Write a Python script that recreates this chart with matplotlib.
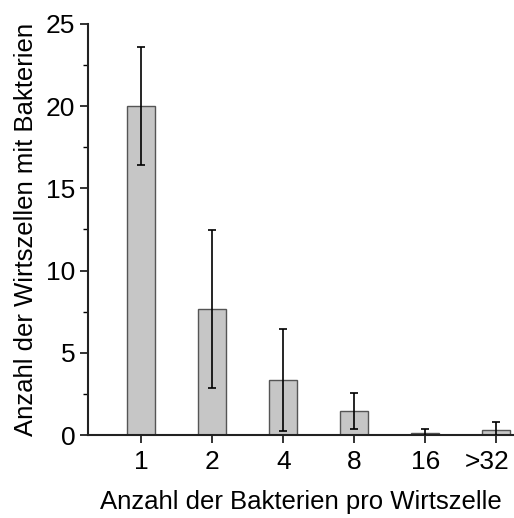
import matplotlib.pyplot as plt
import matplotlib.transforms as mtransforms
import numpy as np

plt.rcParams['font.family'] = ['Liberation Sans', 'DejaVu Sans']

# data
categories = ["1", "2", "4", "8", "16", ">32"]
counts = [20.0, 7.66, 3.35, 1.46, 0.12, 0.3]
errors = [3.6, 4.8, 3.1, 1.08, 0.25, 0.5]

fig = plt.figure(figsize=(5.14, 5.18), dpi=100)
ax = fig.add_axes([0.171, 0.160, 0.829, 0.794])

x = np.arange(len(categories))
ax.bar(x, counts, width=0.4, color='#c6c6c6', edgecolor='#555555', linewidth=1.0, zorder=2)
ax.errorbar(x, counts, yerr=errors, fmt='none', ecolor='black', elinewidth=1.2,
            capsize=3, capthick=1.2, zorder=3)

ax.set_xlim(-0.75, 5.25)
ax.set_ylim(0, 25)
ax.set_xticks(x)
ax.set_xticklabels(categories)
ax.set_yticks(np.arange(0, 26, 5))
ax.set_yticks(np.arange(0, 25.1, 2.5), minor=True)

for side in ['top', 'right']:
    ax.spines[side].set_visible(False)
for side in ['left', 'bottom']:
    ax.spines[side].set_linewidth(1.5)
    ax.spines[side].set_color('#222222')

ax.tick_params(axis='both', which='major', direction='out', length=6, width=1.3,
               labelsize=19, colors='#222222', labelcolor='black')
ax.tick_params(axis='y', which='minor', direction='out', length=3.5, width=1.0)
ax.tick_params(axis='x', which='minor', bottom=False)
ax.tick_params(axis='x', pad=5)
ax.tick_params(axis='y', pad=3)

# last label sits against the right edge, nudge it left like the original
last = ax.get_xticklabels()[-1]
last.set_transform(last.get_transform() + mtransforms.ScaledTranslation(-9 / 100, 0, fig.dpi_scale_trans))

ax.set_xlabel("Anzahl der Bakterien pro Wirtszelle", fontsize=18.5, labelpad=11)
ax.set_ylabel("Anzahl der Wirtszellen mit Bakterien", fontsize=18.5, labelpad=6)

fig.savefig("out.png", dpi=100)
